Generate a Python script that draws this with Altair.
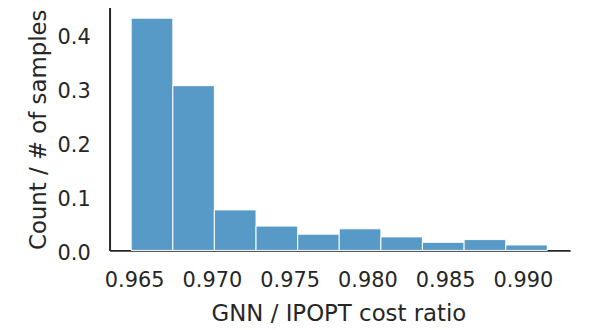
import altair as alt
import pandas as pd

# Bin edges (GNN / IPOPT cost ratio) and normalised counts
bin_start = [0.96481, 0.96749, 0.97016, 0.97284, 0.97552, 0.97819, 0.98087, 0.98354, 0.98622, 0.98890]
bin_end = [0.96749, 0.97016, 0.97284, 0.97552, 0.97819, 0.98087, 0.98354, 0.98622, 0.98890, 0.99157]
share = [0.43, 0.305, 0.075, 0.045, 0.03, 0.04, 0.025, 0.015, 0.02, 0.01]

x_ticks = [0.965, 0.970, 0.975, 0.980, 0.985, 0.990]
y_ticks = [0.0, 0.1, 0.2, 0.3, 0.4]

df = pd.DataFrame({"start": bin_start, "end": bin_end, "share": share})

FONT = "DejaVu Sans"
INK = "#262626"

chart = (
    alt.Chart(df)
    .mark_bar(color="#579AC7", stroke="white", strokeWidth=1, opacity=1)
    .encode(
        x=alt.X(
            "start:Q",
            scale=alt.Scale(domain=[0.96342, 0.99304], nice=False, zero=False),
            axis=alt.Axis(
                values=x_ticks, format=".3f", title="GNN / IPOPT cost ratio",
                grid=False, ticks=False, tickSize=0, labelPadding=19,
                domainColor=INK, domainWidth=2,
                labelFont=FONT, labelFontSize=21, labelColor=INK,
                titleFont=FONT, titleFontSize=23, titleColor=INK, titleFontWeight="normal",
                titleX=230.6, titleY=53,
            ),
        ),
        x2="end:Q",
        y=alt.Y(
            "share:Q",
            scale=alt.Scale(domain=[0, 0.454], nice=False),
            axis=alt.Axis(
                values=y_ticks, format=".1f", title="Count / # of samples",
                grid=False, ticks=False, tickSize=0, labelPadding=19.5,
                labelOffset=3,
                domainColor=INK, domainWidth=2,
                labelFont=FONT, labelFontSize=21, labelColor=INK,
                titleFont=FONT, titleFontSize=23, titleColor=INK, titleFontWeight="normal",
                titleX=-60, titleY=125,
            ),
        ),
        y2=alt.datum(0),
    )
    .properties(
        width=464,
        height=247,
        autosize=alt.AutoSizeParams(type="none"),
        padding={"left": 102.3, "top": -4, "right": 20, "bottom": 75},
    )
    .configure_view(stroke=None)
)

chart.save("out.html", embed_options={"renderer": "svg", "actions": False})
